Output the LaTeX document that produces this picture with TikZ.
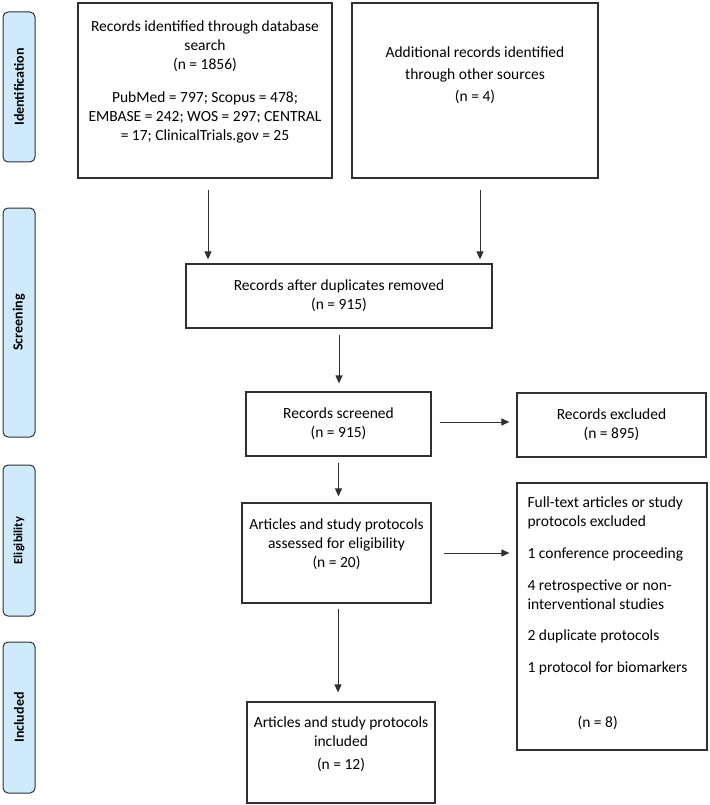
\documentclass[tikz,border=0pt]{standalone}
\usepackage{fontspec}
\setmainfont{Carlito}
\usetikzlibrary{arrows.meta}

\definecolor{phaseblue}{HTML}{CFEAFB}
\definecolor{linegray}{HTML}{303030}

\begin{document}
\begin{tikzpicture}[x=1pt, y=-1pt,
    box/.style={draw=linegray, line width=1.2pt, rectangle, inner sep=0pt},
    txt/.style={font=\fontsize{15.5}{19}\selectfont, align=center, inner sep=0pt},
    phase/.style={draw=linegray, fill=phaseblue, rounded corners=5pt, line width=1pt,
        rotate=90, minimum height=32pt, font=\fontsize{14}{16}\selectfont\bfseries},
    arr/.style={-{Triangle[length=8pt,width=7pt]}, line width=1pt, draw=linegray}]

    % fix the page to the size of the original figure
    \useasboundingbox (0,0) rectangle (709,805);

    % Phase bars on the left (rotated labels)
    \node[phase, minimum width=150pt] (idf) at (19,87) {Identification};
    \node[phase, minimum width=229pt] (scr) at (19,322.5) {Screening};
    \node[phase, minimum width=151pt, font=\fontsize{12.5}{14}\selectfont\bfseries] (elg) at (19,540.5) {Eligibility};
    \node[phase, minimum width=151pt] (inc) at (19,717.5) {Included};

    % Boxes of the flow
    % A and B are the two sources at the top
    \node[box, minimum width=254pt, minimum height=175pt] (A) at (205,90.5) {};
    \node[box, minimum width=246pt, minimum height=175pt] (B) at (475,90.5) {};
    % C collects both sources
    \node[box, minimum width=306pt, minimum height=64pt] (C) at (339,296) {};
    % D and E are screened / excluded
    \node[box, minimum width=185pt, minimum height=64pt] (D) at (338.5,424) {};
    \node[box, minimum width=189pt, minimum height=64pt] (E) at (611.5,425) {};
    % F and G are eligibility / full-text excluded
    \node[box, minimum width=189pt, minimum height=100pt] (F) at (336.5,553) {};
    \node[box, minimum width=190pt, minimum height=267pt] (G) at (612,616.5) {};
    % H is the final set
    \node[box, minimum width=188pt, minimum height=101pt] (H) at (341,752.5) {};

    % Texts inside the boxes
    \node[txt, anchor=north] (Atxt) at ([yshift=-18pt]A.north)
        {Records identified through database\\search\\(n = 1856)\\[14pt]
         PubMed = 797; Scopus = 478;\\EMBASE = 242; WOS = 297; CENTRAL\\= 17; ClinicalTrials.gov = 25};
    \node[txt] (Btxt) at ([yshift=15pt]B.center)
        {Additional records identified\\[3pt]through other sources\\[3pt](n = 4)};
    \node[txt] (Ctxt) at (C.center) {Records after duplicates removed\\(n = 915)};
    \node[txt] (Dtxt) at (D.center) {Records screened\\(n = 915)};
    \node[txt] (Etxt) at (E.center) {Records excluded\\(n = 895)};
    \node[txt, anchor=north] (Ftxt) at ([yshift=-16pt]F.north)
        {Articles and study protocols\\assessed for eligibility\\(n = 20)};
    \node[txt, anchor=north west, align=left] (Gtxt) at ([xshift=11pt,yshift=-14pt]G.north west)
        {Full-text articles or study\\protocols excluded\\[13pt]
         1 conference proceeding\\[13pt]
         4 retrospective or non-\\interventional studies\\[12pt]
         2 duplicate protocols\\[13pt]
         1 protocol for biomarkers\\[36pt]
         \hspace*{50pt}(n = 8)};
    \node[txt, anchor=north] (Htxt) at ([yshift=-15pt]H.north)
        {Articles and study protocols\\included\\[4pt](n = 12)};

    % Arrows between the boxes
    \draw[arr, shorten <=11pt, shorten >=4pt] ([xshift=3pt]A.south) -- ([xshift=3pt]A.south |- C.north);
    \draw[arr, shorten <=11pt, shorten >=4pt] ([xshift=5pt]B.south) -- ([xshift=5pt]B.south |- C.north);
    \draw[arr, shorten <=6pt, shorten >=8pt] (C.south) -- (C.south |- D.north);
    \draw[arr, shorten <=8pt, shorten >=7pt] ([yshift=2pt]D.east) -- ([yshift=2pt]D.east -| E.west);
    \draw[arr, shorten <=6pt, shorten >=6pt] (D.south) -- (D.south |- F.north);
    \draw[arr, shorten <=12pt, shorten >=7pt] (F.east) -- (F.east -| G.west);
    \draw[arr, shorten <=5pt, shorten >=9pt] ([xshift=1.5pt]F.south) -- ([xshift=1.5pt]F.south |- H.north);

\end{tikzpicture}
\end{document}
